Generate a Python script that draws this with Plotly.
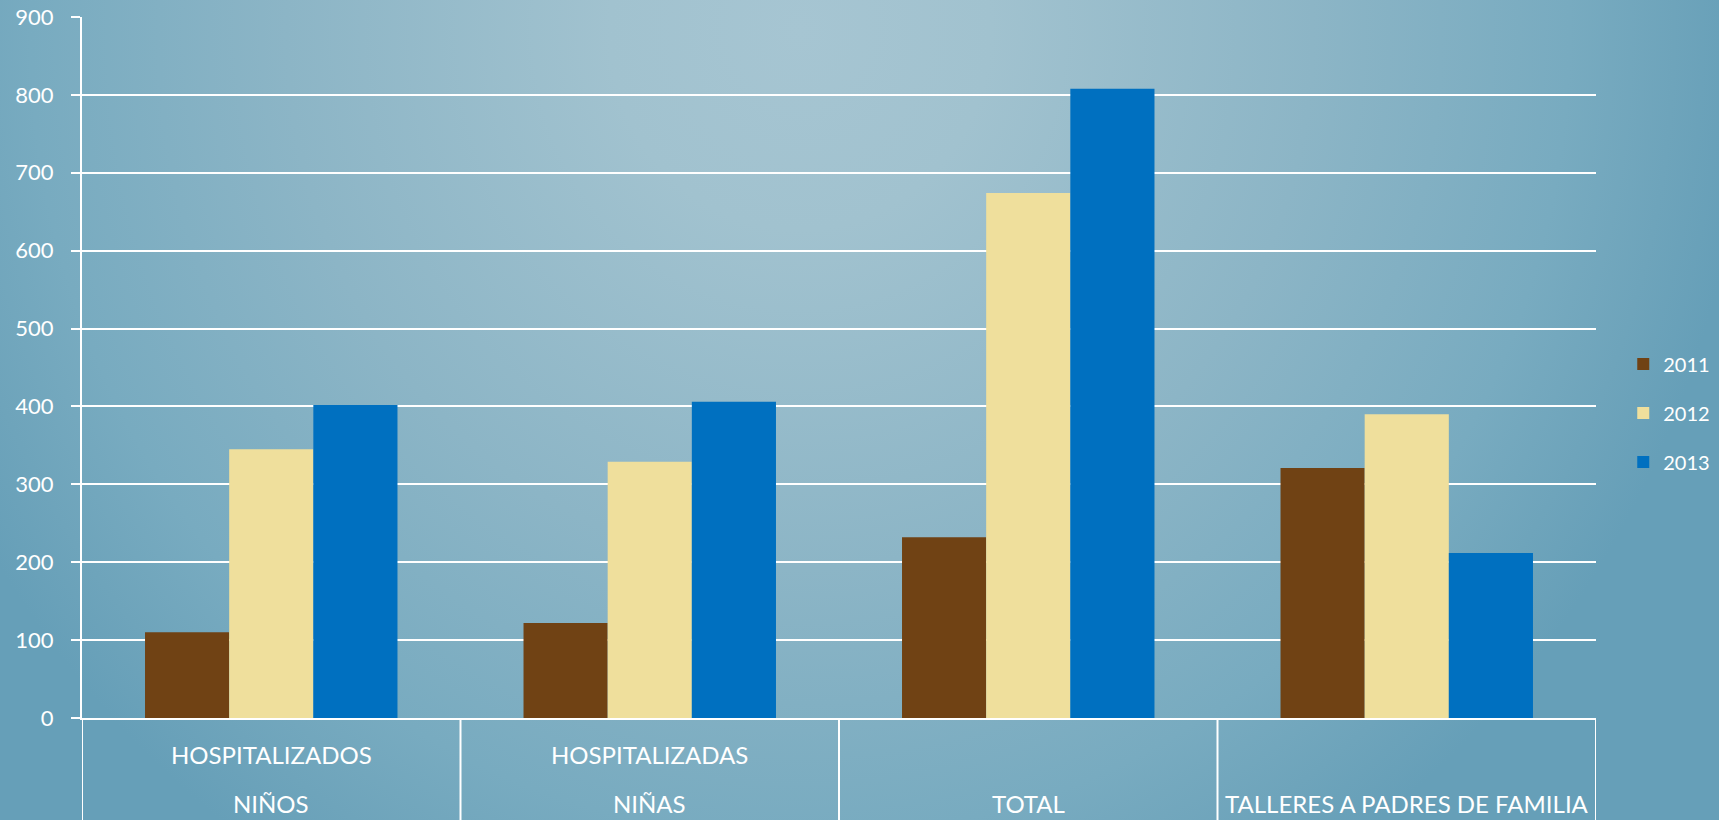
import base64
import plotly.graph_objects as go

# ---- data ----
categories = ["NIÑOS", "NIÑAS", "TOTAL", "TALLERES A PADRES DE FAMILIA"]
category_top = ["HOSPITALIZADOS", "HOSPITALIZADAS", "", ""]
years = ["2011", "2012", "2013"]
values_2011 = [110, 122, 232, 321]
values_2012 = [345, 329, 674, 390]
values_2013 = [402, 406, 808, 212]
y_ticks = [0, 100, 200, 300, 400, 500, 600, 700, 800, 900]

series = [values_2011, values_2012, values_2013]
colors = ["#704214", "#EFDF9C", "#0070C0"]

W, H = 1719, 820
ML, MR, MT, MB = 82, 123, 17, 102
PW, PH = W - ML - MR, H - MT - MB

fig = go.Figure()
for i, (yr, vals) in enumerate(zip(years, series)):
    fig.add_trace(go.Bar(
        name=yr, x=categories, y=vals, marker_color=colors[i],
        marker_line_width=0, legendgroup=yr,
    ))

# background gradient as svg image
svg = f'''<svg xmlns="http://www.w3.org/2000/svg" width="{W}" height="{H}" viewBox="0 0 {W} {H}" preserveAspectRatio="none">
<defs><radialGradient id="g" gradientUnits="userSpaceOnUse" cx="800" cy="30" r="950"
 gradientTransform="translate(800 30) scale(1 1.05) translate(-800 -30)">
<stop offset="0" stop-color="#a6c5d2"/>
<stop offset="0.2" stop-color="#a1c2cf"/>
<stop offset="0.54" stop-color="#8cb5c6"/>
<stop offset="0.81" stop-color="#78abc0"/>
<stop offset="0.92" stop-color="#6ea4bb"/>
<stop offset="1" stop-color="#669fb8"/>
</radialGradient></defs>
<rect width="{W}" height="{H}" fill="url(#g)"/></svg>'''
src = "data:image/svg+xml;base64," + base64.b64encode(svg.encode()).decode()
fig.add_layout_image(
    source=src, xref="paper", yref="paper",
    x=-ML / PW, y=1 + MT / PH, sizex=W / PW, sizey=H / PH,
    xanchor="left", yanchor="top", sizing="stretch", layer="below",
)

# category dividers extending below the axis
bottom = -MB / PH
for b in [i - 0.5 for i in range(len(categories) + 1)]:
    fig.add_shape(type="line", xref="x", yref="paper", x0=b, x1=b,
                  y0=0, y1=bottom, line=dict(color="white", width=2))

# category labels (two levels)
font_lbl = dict(family="Lato", size=24, color="white")
for c, top in zip(categories, category_top):
    if top:
        fig.add_annotation(x=c, y=-36 / PH, xref="x", yref="paper", text=top,
                           showarrow=False, font=font_lbl, yanchor="middle")
    fig.add_annotation(x=c, y=-85 / PH, xref="x", yref="paper", text=c,
                       showarrow=False, font=font_lbl, yanchor="middle")

fig.update_layout(
    width=W, height=H,
    margin=dict(l=ML, r=MR, t=MT, b=MB, pad=0, autoexpand=False),
    paper_bgcolor="#6aa2ba", plot_bgcolor="rgba(0,0,0,0)",
    barmode="group", bargap=0.333, bargroupgap=0,
    font=dict(family="Lato", color="white", size=20),
    legend=dict(x=1.018, y=0.435, xanchor="left", yanchor="middle",
                font=dict(size=20, color="white"), bgcolor="rgba(0,0,0,0)",
                tracegroupgap=20),
    showlegend=True,
)
fig.update_xaxes(
    showticklabels=False, showgrid=False, zeroline=False, automargin=False,
    showline=True, linecolor="white", linewidth=2, ticks="",
    range=[-0.5, len(categories) - 0.5],
)
fig.update_yaxes(
    range=[0, 900], tickvals=y_ticks, showgrid=True, gridcolor="white",
    gridwidth=2, zeroline=False, showline=True, linecolor="white", linewidth=2,
    ticks="outside", ticklen=9, tickwidth=2, tickcolor="white", automargin=False,
    ticklabelstandoff=13, tickfont=dict(size=22, color="white"),
)

fig.write_html("out.html", config={"displayModeBar": False},
               post_script="document.body.style.margin='0';document.body.style.overflow='hidden';")
